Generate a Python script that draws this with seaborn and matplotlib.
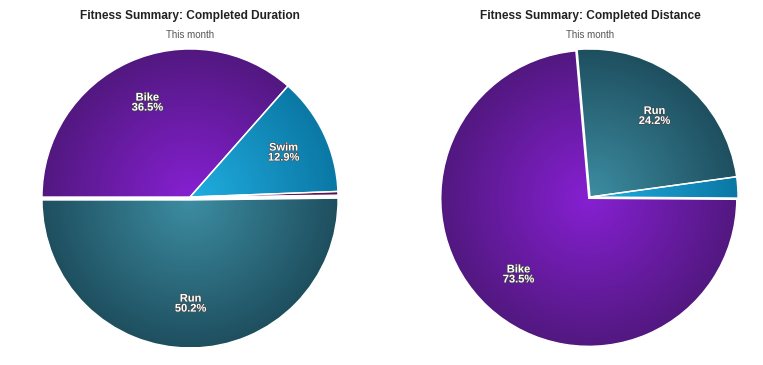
import numpy as np
import matplotlib.pyplot as plt
import matplotlib.patheffects as pe
import seaborn as sns

sns.set_theme(style="white")
plt.rcParams["font.family"] = ["Liberation Sans", "DejaVu Sans"]

# share of the month, in percent
duration_labels = ["Bike", "Swim", "Other", "Run"]
duration_share = [36.5, 12.9, 0.4, 50.2]

distance_labels = ["Run", "Swim", "Bike"]
distance_share = [24.2, 2.3, 73.5]

# radial gradient: (centre colour, rim colour)
GRADIENTS = {
    "Bike": ("#8620d2", "#521880"),
    "Run": ("#3d8da2", "#1e4f5f"),
    "Swim": ("#20aee0", "#0b78a5"),
    "Other": ("#7a1f68", "#561450"),
}

W, H = 763, 365
R = 148 / 150  # pie radius in axes units (axes span 300 px for 2 units)


def draw_pie(ax, labels, values, explode, start):
    texts = [f"{l}\n{v:.1f}%" if v >= 5 else "" for l, v in zip(labels, values)]
    wedges, txts = ax.pie(values, labels=texts, explode=explode,
                          startangle=start, counterclock=False,
                          radius=R, labeldistance=0.7,
                          wedgeprops=dict(edgecolor="white", linewidth=1))
    yy, xx = np.mgrid[-1:1:400j, -1:1:400j]
    dist = np.clip(np.hypot(xx, yy), 0, 1)
    for w, name in zip(wedges, labels):
        c0, c1 = GRADIENTS[name]
        cmap = sns.blend_palette([c0, c1], as_cmap=True)
        cx, cy = w.center
        im = ax.imshow(dist, cmap=cmap, vmin=0, vmax=1, origin="lower",
                       extent=[cx - R, cx + R, cy - R, cy + R], zorder=1,
                       interpolation="bilinear")
        im.set_clip_path(w)
        w.set_facecolor("none")
        w.set_zorder(2)
    for t in txts:
        t.set_ha("center")
        t.set_va("center")
        t.set_color("white")
        t.set_fontsize(8)
        t.set_fontweight("bold")
        t.set_linespacing(1.0)
        t.set_zorder(3)
        t.set_path_effects([pe.withStroke(linewidth=0.8, foreground="#444444")])
    ax.set_xlim(-1, 1)
    ax.set_ylim(-1, 1)
    ax.set_aspect("equal")
    ax.axis("off")


fig = plt.figure(figsize=(W / 100, H / 100), dpi=100)

ax1 = fig.add_axes([40 / W, 18 / H, 300 / W, 300 / H])
draw_pie(ax1, duration_labels, duration_share, [0, 0, 0, 0.02], 180)

ax2 = fig.add_axes([440 / W, 18 / H, 300 / W, 300 / H])
draw_pie(ax2, distance_labels, distance_share, [0, 0, 0.012], 95)

for cx, title in [(190, "Fitness Summary: Completed Duration"),
                  (590, "Fitness Summary: Completed Distance")]:
    fig.text(cx / W, 1 - 16 / H, title, ha="center", va="center",
             fontsize=8.6, fontweight="bold", color="#222222")
    fig.text(cx / W, 1 - 35 / H, "This month", ha="center", va="center",
             fontsize=7, color="#555555")

fig.savefig("out.png", dpi=100)
